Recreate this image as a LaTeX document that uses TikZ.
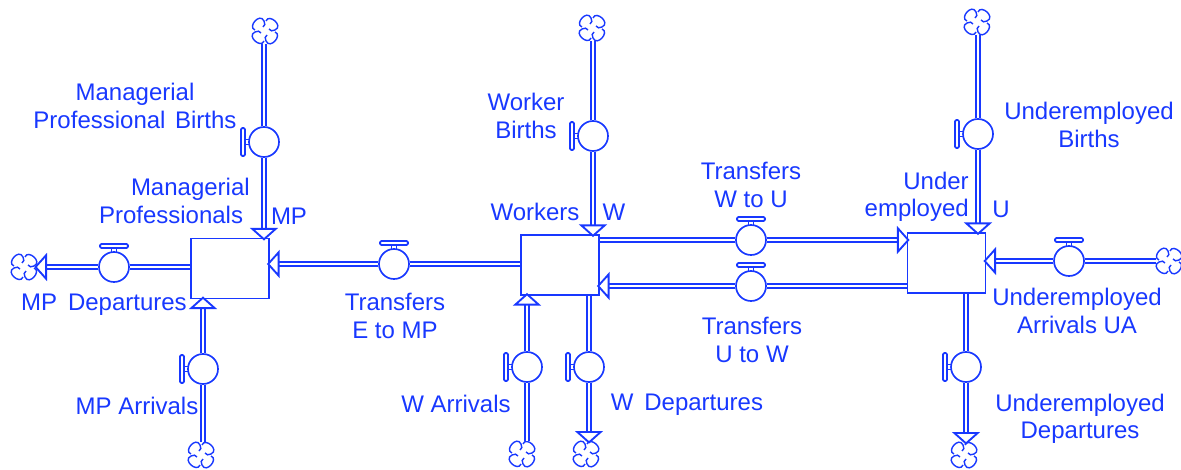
\documentclass[tikz,border=0pt]{standalone}
\usepackage{fontspec}
\setmainfont{Liberation Sans}
\usetikzlibrary{arrows.meta}
\definecolor{vblue}{RGB}{24,56,255}
\tikzset{
  every node/.style={text=vblue},
  lab/.style={font=\fontsize{18}{20.5}\selectfont,align=center,inner sep=0pt},
  stockbox/.style={draw=vblue,line width=1.3pt,fill=white,minimum width=58.5pt,minimum height=45pt,inner sep=0pt},
  valvebody/.style={circle,draw=vblue,line width=1.25pt,fill=white,minimum size=22.5pt,inner sep=0pt},
  cloudn/.style={circle,minimum size=19.5pt,inner sep=0pt},
  pipe/.style={draw=vblue,line width=1.2pt,double=white,double distance=1.9pt},
  head/.style={pipe,shorten >=-2.2pt,-{Triangle[open,length=9.5pt,width=21pt,line width=1.4pt,fill=white]}},
  thin/.style={draw=vblue,line width=1.25pt,fill=white}
}
\newcommand{\vlv}[4]{%
  \node[valvebody] (#1) at (#2,#3) {};
  \begin{scope}[shift={(#1)},rotate=#4]
    \draw[thin] (-2.5,-15) -- (-2.5,-20) (2.5,-15) -- (2.5,-20);
    \draw[thin,rounded corners=1pt] (-14,-23) rectangle (14,-19);
  \end{scope}}
\newcommand{\cld}[3]{%
  \node[cloudn] (#1) at (#2,#3) {};
  \begin{scope}[shift={(#1)}]
    \foreach \a in {0,90,180,270}{
      \draw[draw=vblue,line width=1.05pt,rotate=\a] (1,-10) .. controls (4,-18) and (19,-5) .. (10,-1)
        .. controls (7.5,0.5) and (5,0) .. (4,-2);
    }
  \end{scope}}
\begin{document}
\begin{tikzpicture}[x=0.75pt,y=-0.75pt]
\useasboundingbox (0,0) rectangle (1181,470);
% stocks
\node[stockbox] (mp) at (230,268.5) {};
\node[stockbox] (w) at (560,265) {};
\node[stockbox] (u) at (946.5,263) {};
% valves
\vlv{v1}{264}{142}{90}
\vlv{v2}{114}{267}{0}
\vlv{v3}{203}{369}{90}
\vlv{v4}{394}{264}{0}
\vlv{v5}{593}{136}{90}
\vlv{v6}{527}{367}{90}
\vlv{v7}{589}{367}{90}
\vlv{v8}{751}{240}{0}
\vlv{v9}{751}{286}{0}
\vlv{v10}{978}{134}{90}
\vlv{v11}{1069}{261}{0}
\vlv{v12}{966}{367}{90}
% clouds
\cld{c1}{265}{31}
\cld{c2}{24}{267}
\cld{c3}{201}{455}
\cld{c5}{592}{28}
\cld{c6}{522}{454}
\cld{c7}{586}{454}
\cld{c10}{977}{22}
\cld{c11}{1169}{261}
\cld{c12}{964}{455}
% pipes: MP
\draw[pipe] (c1.south -| v1) -- (v1);
\draw[head] (v1) -- (v1 |- mp.north);
\draw[pipe] (mp.west |- v2) -- (v2);
\draw[head] (v2) -- (c2);
\draw[pipe] (c3.north -| v3) -- (v3);
\draw[head] (v3) -- (v3 |- mp.south);
\draw[pipe] (w.west |- v4) -- (v4);
\draw[head] (v4) -- (mp.east |- v4);
% W
\draw[pipe] (c5.south -| v5) -- (v5);
\draw[head] (v5) -- (v5 |- w.north);
\draw[pipe] (c6.north -| v6) -- (v6);
\draw[head] (v6) -- (v6 |- w.south);
\draw[pipe] (v7 |- w.south) -- (v7);
\draw[head] (v7) -- (c7.north -| v7);
\draw[pipe] (w.east |- v8) -- (v8);
\draw[head] (v8) -- (u.west |- v8);
\draw[pipe] (u.west |- v9) -- (v9);
\draw[head] (v9) -- (w.east |- v9);
% U
\draw[pipe] (c10.south -| v10) -- (v10);
\draw[head] (v10) -- (v10 |- u.north);
\draw[pipe] (c11) -- (v11);
\draw[head] (v11) -- (u.east |- v11);
\draw[pipe] (v12 |- u.south) -- (v12);
\draw[head] (v12) -- (c12.north -| v12);
% labels
\node[lab] (t1) at (135,106) {Managerial\\Professional\hspace{0.4em}Births};
\node[lab,align=left,anchor=east] (t2) at (250,201) {\hspace*{24pt}Managerial\\Professionals};
\node[lab] (t3) at (289,216) {MP};
\node[lab] (t4) at (104,305) {MP\hspace{0.45em}Departures};
\node[lab] (t5) at (137,406) {MP Arrivals};
\node[lab] (t6) at (395,316) {Transfers\\E to MP};
\node[lab] (t7) at (526,116) {Worker\\Births};
\node[lab] (t8) at (535,212) {Workers};
\node[lab] (t9) at (614,212) {W};
\node[lab] (t10) at (456,404) {W Arrivals};
\node[lab] (t11) at (687,405) {W\hspace{0.45em}Departures};
\node[lab] (t12) at (751,185) {Transfers\\W to U};
\node[lab] (t13) at (752,340) {Transfers\\U to W};
\node[lab,align=right,anchor=east] (t14) at (969,197) {Under\\employed};
\node[lab] (t15) at (1001,209) {U};
\node[lab] (t16) at (1089,125) {Underemployed\\Births};
\node[lab] (t17) at (1077,311) {Underemployed\\Arrivals UA};
\node[lab] (t18) at (1080,419) {Underemployed\\Departures};
\end{tikzpicture}
\end{document}
